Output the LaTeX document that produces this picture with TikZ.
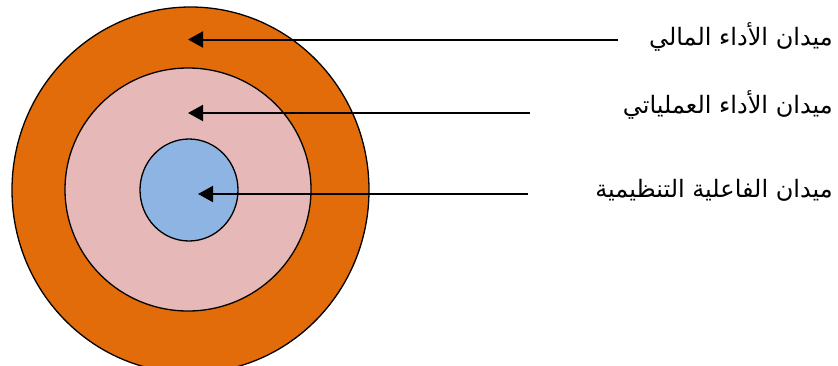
\documentclass[tikz,border=0pt]{standalone}
\usepackage{fontspec}
\usetikzlibrary{arrows.meta}
\newfontfamily\arabicfont[Script=Arabic]{DejaVu Sans}
\TeXXeTstate=1
\definecolor{ringorange}{RGB}{227,108,10}
\definecolor{ringpink}{RGB}{230,185,184}
\definecolor{ringblue}{RGB}{142,180,227}
\tikzset{
  ring/.style={draw=black, line width=1.3pt},
  pointer/.style={line width=2pt, -{Triangle[length=15pt,width=16pt]}},
  label/.style={font=\arabicfont\fontsize{24}{28}\selectfont, anchor=east, inner sep=0pt}
}
\begin{document}
\begin{tikzpicture}[x=1pt,y=-1pt]
\useasboundingbox (0,0) rectangle (838,365);
\clip (0,0) rectangle (838,365);
\fill[white] (0,0) rectangle (838,365);
\draw[ring, fill=ringorange] (190.5,190) ellipse [x radius=178.5, y radius=183];
\draw[ring, fill=ringpink] (188,189.5) ellipse [x radius=123, y radius=121.5];
\draw[ring, fill=ringblue] (189,190) ellipse [x radius=49, y radius=51];
\node[label] (t1) at (833,37) {\beginR ميدان الأداء المالي\endR};
\node[label] (t2) at (833,105) {\beginR ميدان الأداء العملياتي\endR};
\node[label] (t3) at (833,190) {\beginR ميدان الفاعلية التنظيمية\endR};
\coordinate (s1) at (618,39.5);
\coordinate (s2) at (530,113);
\coordinate (s3) at (528,194);
\coordinate (e1) at (188,39.5);
\coordinate (e2) at (188,113);
\coordinate (e3) at (198,194);
\draw[pointer] (s1) -- (e1);
\draw[pointer] (s2) -- (e2);
\draw[pointer] (s3) -- (e3);
\end{tikzpicture}
\end{document}
